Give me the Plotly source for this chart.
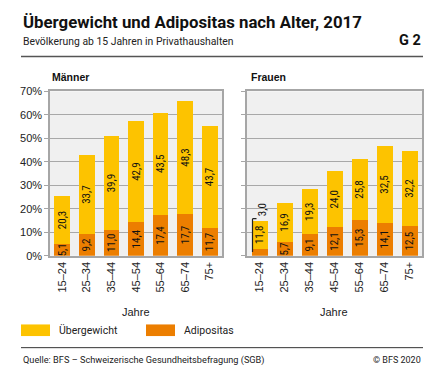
import plotly.graph_objects as go

OFF = 8  # default page body margin
W, H = 437 - 2 * OFF, 381 - 2 * OFF

categories = ["15–24", "25–34", "35–44", "45–54", "55–64", "65–74", "75+"]
maenner_adipositas = [5.1, 9.2, 11.0, 14.4, 17.4, 17.7, 11.7]
maenner_uebergewicht = [20.3, 33.7, 39.9, 42.9, 43.5, 48.3, 43.7]
frauen_adipositas = [3.0, 5.7, 9.1, 12.1, 15.3, 14.1, 12.5]
frauen_uebergewicht = [11.8, 16.9, 19.3, 24.0, 25.8, 32.5, 32.2]
y_ticks = [0, 10, 20, 30, 40, 50, 60, 70]

YELLOW = "#FDC300"
ORANGE = "#EC7E00"
FONT = "Liberation Sans, Arial, sans-serif"
NARROW = "Liberation Sans Narrow, Roboto Condensed, Liberation Sans, Arial, sans-serif"
TITLEFONT = "Roboto, Liberation Sans, Arial, sans-serif"


def px(x):
    return (x - OFF) / W


def py(y):
    return 1 - (y - OFF) / H


def fmt(v):
    return f"{v:.1f}".replace(".", ",")


fig = go.Figure()

# Männer
fig.add_trace(go.Bar(x=categories, y=maenner_adipositas, marker_color=ORANGE,
                     text=[fmt(v) for v in maenner_adipositas], xaxis="x", yaxis="y",
                     name="Adipositas", showlegend=False))
fig.add_trace(go.Bar(x=categories, y=maenner_uebergewicht, marker_color=YELLOW,
                     text=[fmt(v) for v in maenner_uebergewicht], xaxis="x", yaxis="y",
                     name="Übergewicht", showlegend=False))
# Frauen (first adipositas label placed outside with leader)
f_adi_text = [fmt(v) for v in frauen_adipositas]
f_adi_text[0] = ""
fig.add_trace(go.Bar(x=categories, y=frauen_adipositas, marker_color=ORANGE,
                     text=f_adi_text, xaxis="x2", yaxis="y2",
                     name="Adipositas", showlegend=False))
fig.add_trace(go.Bar(x=categories, y=frauen_uebergewicht, marker_color=YELLOW,
                     text=[fmt(v) for v in frauen_uebergewicht], xaxis="x2", yaxis="y2",
                     name="Übergewicht", showlegend=False))

fig.update_traces(textposition="inside", insidetextanchor="middle", textangle=-90,
                  textfont=dict(family=NARROW, size=11, color="#111"),
                  marker_line_width=0, hoverinfo="skip")

axis_common = dict(showline=True, linecolor="#a6a6a6", linewidth=1.5, mirror=True)
xcommon = dict(type="category", tickangle=-90, tickfont=dict(family=FONT, size=11, color="#222"),
               ticks="", **axis_common)
ycommon = dict(range=[0, 70], tickvals=y_ticks, showgrid=True, gridcolor="#a8a8a8", gridwidth=1,
               zeroline=False, ticks="outside", ticklen=4, tickcolor="#a6a6a6", **axis_common)

yb, yt = py(258), py(88)
fig.update_layout(
    width=W, height=H,
    margin=dict(l=0, r=0, t=0, b=0),
    paper_bgcolor="white", plot_bgcolor="#F0F0F0",
    barmode="stack", bargap=0.36,
    uniformtext=dict(minsize=11, mode="show"),
    font=dict(family=FONT, color="#222"),
    xaxis=dict(domain=[px(50), px(222)], anchor="y", **xcommon),
    yaxis=dict(domain=[yb, yt], anchor="x", ticktext=[f"{v}%" for v in y_ticks],
               tickfont=dict(family=FONT, size=11, color="#222"), **ycommon),
    xaxis2=dict(domain=[px(247), px(422)], anchor="y2", **xcommon),
    yaxis2=dict(domain=[yb, yt], anchor="x2", showticklabels=False, **ycommon),
)

ann = []
ann.append(dict(text="<b>Übergewicht und Adipositas nach Alter, 2017</b>", x=px(21), y=py(16),
                xref="paper", yref="paper", xanchor="left", yanchor="middle", showarrow=False,
                font=dict(family=TITLEFONT, size=16.8, color="#111")))
ann.append(dict(text="Bevölkerung ab 15 Jahren in Privathaushalten", x=px(21), y=py(36),
                xref="paper", yref="paper", xanchor="left", yanchor="middle", showarrow=False,
                font=dict(family=TITLEFONT, size=10.4, color="#222")))
ann.append(dict(text="<b>G 2</b>", x=px(423), y=py(35), xref="paper", yref="paper",
                xanchor="right", yanchor="middle", showarrow=False,
                font=dict(family=TITLEFONT, size=14.5, color="#111")))
ann.append(dict(text="<b>Männer</b>", x=px(50), y=py(73), xref="paper", yref="paper",
                xanchor="left", yanchor="middle", showarrow=False,
                font=dict(family=FONT, size=10.5, color="#111")))
ann.append(dict(text="<b>Frauen</b>", x=px(249), y=py(73), xref="paper", yref="paper",
                xanchor="left", yanchor="middle", showarrow=False,
                font=dict(family=FONT, size=10.5, color="#111")))
for xc in (136, 334):
    ann.append(dict(text="Jahre", x=px(xc), y=py(316), xref="paper", yref="paper",
                    xanchor="center", yanchor="middle", showarrow=False,
                    font=dict(family=FONT, size=11, color="#222")))
ann.append(dict(text="Übergewicht", x=px(57), y=py(335), xref="paper", yref="paper",
                xanchor="left", yanchor="middle", showarrow=False,
                font=dict(family=TITLEFONT, size=10.5, color="#222")))
ann.append(dict(text="Adipositas", x=px(182), y=py(335), xref="paper", yref="paper",
                xanchor="left", yanchor="middle", showarrow=False,
                font=dict(family=TITLEFONT, size=10.5, color="#222")))
ann.append(dict(text="Quelle: BFS – Schweizerische Gesundheitsbefragung (SGB)", x=px(21), y=py(366),
                xref="paper", yref="paper", xanchor="left", yanchor="middle", showarrow=False,
                font=dict(family=TITLEFONT, size=9.2, color="#222")))
ann.append(dict(text="© BFS 2020", x=px(423), y=py(366), xref="paper", yref="paper",
                xanchor="right", yanchor="middle", showarrow=False,
                font=dict(family=TITLEFONT, size=9.0, color="#222")))
# outside label for Frauen 15–24 Adipositas
total0 = frauen_adipositas[0] + frauen_uebergewicht[0]
ann.append(dict(text=fmt(frauen_adipositas[0]), x=categories[0], y=total0 + 1.2,
                xref="x2", yref="y2", xanchor="center", yanchor="bottom", showarrow=False,
                textangle=-90, xshift=3,
                font=dict(family=NARROW, size=11, color="#111")))
fig.update_layout(annotations=ann)

shapes = []
shapes.append(dict(type="line", xref="paper", yref="paper", x0=px(21), x1=px(423),
                   y0=py(52), y1=py(52), line=dict(color="#555", width=1.5)))
shapes.append(dict(type="line", xref="paper", yref="paper", x0=px(21), x1=px(423),
                   y0=py(353), y1=py(353), line=dict(color="#333", width=1)))
shapes.append(dict(type="rect", xref="paper", yref="paper", x0=px(21), x1=px(50),
                   y0=py(341), y1=py(329), fillcolor=YELLOW, line=dict(width=0)))
shapes.append(dict(type="rect", xref="paper", yref="paper", x0=px(146), x1=px(175),
                   y0=py(341), y1=py(329), fillcolor=ORANGE, line=dict(width=0)))
# leader line for the outside label
shapes.append(dict(type="line", xref="x2", yref="y2", x0=-0.28, x1=-0.28,
                   y0=frauen_adipositas[0] * 0.55, y1=total0 + 1.0, line=dict(color="#222", width=1.2)))
shapes.append(dict(type="line", xref="x2", yref="y2", x0=-0.28, x1=-0.12,
                   y0=total0 + 1.0, y1=total0 + 1.0, line=dict(color="#222", width=1.2)))
fig.update_layout(shapes=shapes)

fig.write_html("out.html")
